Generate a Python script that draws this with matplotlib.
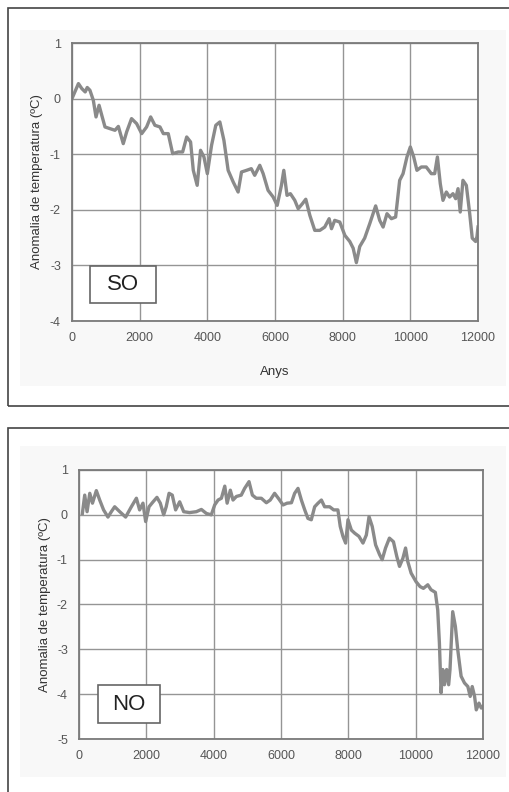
import matplotlib.pyplot as plt
from matplotlib.patches import Rectangle
import numpy as np

plt.rcParams['font.family'] = ['Liberation Sans', 'DejaVu Sans']
plt.rcParams['axes.unicode_minus'] = False

# SO (top panel)
so_years = [0, 190, 290, 390, 450, 530, 630, 710, 800, 880, 975, 1120, 1270, 1370,
            1515, 1615, 1760, 1910, 2060, 2205, 2325, 2450, 2600, 2700, 2845, 2975,
            3140, 3270, 3390, 3505, 3585, 3700, 3800, 3900, 4000, 4125, 4250, 4370,
            4490, 4615, 4765, 4910, 5010, 5160, 5300, 5400, 5550, 5650, 5795, 5945,
            6065, 6190, 6260, 6355, 6455, 6585, 6685, 6810, 6910, 7030, 7175, 7325,
            7470, 7600, 7670, 7765, 7915, 8065, 8210, 8310, 8405, 8505, 8650, 8800,
            8975, 9095, 9195, 9310, 9440, 9565, 9685, 9785, 9900, 10000, 10100, 10195,
            10325, 10470, 10620, 10720, 10800, 10885, 10965, 11065, 11160, 11260,
            11340, 11410, 11475, 11555, 11655, 11755, 11830, 11930, 11970, 12000]
so_temp = [0.0, 0.27, 0.18, 0.12, 0.2, 0.15, -0.03, -0.33, -0.12, -0.3, -0.51, -0.54,
           -0.57, -0.5, -0.81, -0.6, -0.36, -0.45, -0.63, -0.51, -0.33, -0.48, -0.51,
           -0.63, -0.63, -0.99, -0.96, -0.96, -0.69, -0.78, -1.29, -1.56, -0.93, -1.05,
           -1.35, -0.84, -0.48, -0.42, -0.75, -1.29, -1.5, -1.68, -1.32, -1.29, -1.26,
           -1.38, -1.2, -1.35, -1.65, -1.77, -1.92, -1.56, -1.29, -1.74, -1.71, -1.83,
           -1.98, -1.89, -1.81, -2.1, -2.37, -2.37, -2.31, -2.16, -2.34, -2.19, -2.22,
           -2.46, -2.57, -2.69, -2.95, -2.66, -2.51, -2.25, -1.93, -2.19, -2.31, -2.07,
           -2.16, -2.13, -1.47, -1.35, -1.05, -0.87, -1.05, -1.29, -1.23, -1.23, -1.35,
           -1.35, -1.05, -1.53, -1.83, -1.68, -1.77, -1.71, -1.8, -1.62, -2.04, -1.47,
           -1.56, -2.07, -2.51, -2.57, -2.48, -2.31]

# NO (bottom panel)
no_years = [100, 170, 240, 320, 400, 515, 615, 730, 860, 960, 1060, 1210, 1385, 1555,
            1705, 1800, 1900, 1980, 2080, 2200, 2315, 2415, 2515, 2590, 2675, 2770,
            2870, 2990, 3110, 3285, 3485, 3635, 3785, 3930, 4030, 4130, 4230, 4330,
            4400, 4495, 4575, 4675, 4820, 4920, 5050, 5150, 5265, 5415, 5565, 5680,
            5810, 5940, 6060, 6180, 6310, 6405, 6505, 6605, 6705, 6800, 6900, 7000,
            7100, 7200, 7295, 7445, 7565, 7690, 7760, 7840, 7920, 7990, 8090, 8190,
            8315, 8435, 8535, 8615, 8710, 8810, 8930, 9005, 9105, 9220, 9340, 9440,
            9520, 9620, 9700, 9765, 9865, 10010, 10130, 10230, 10360, 10455, 10585,
            10655, 10705, 10755, 10805, 10855, 10920, 10980, 11020, 11100, 11180,
            11250, 11350, 11450, 11550, 11620, 11680, 11750, 11800, 11880, 11950, 12000]
no_temp = [0.03, 0.44, 0.07, 0.48, 0.26, 0.54, 0.33, 0.11, -0.05, 0.07, 0.18, 0.07,
           -0.05, 0.18, 0.37, 0.11, 0.26, -0.15, 0.18, 0.29, 0.39, 0.26, 0.0, 0.18,
           0.48, 0.44, 0.11, 0.29, 0.07, 0.05, 0.07, 0.12, 0.03, 0.0, 0.22, 0.33, 0.37,
           0.64, 0.26, 0.55, 0.33, 0.41, 0.44, 0.59, 0.74, 0.44, 0.37, 0.37, 0.27, 0.33,
           0.48, 0.35, 0.22, 0.26, 0.27, 0.48, 0.59, 0.33, 0.11, -0.08, -0.11, 0.18,
           0.26, 0.33, 0.18, 0.18, 0.11, 0.11, -0.26, -0.48, -0.63, -0.11, -0.34, -0.41,
           -0.48, -0.63, -0.45, -0.04, -0.26, -0.67, -0.89, -1.0, -0.74, -0.52, -0.6,
           -0.93, -1.15, -0.97, -0.74, -1.04, -1.3, -1.49, -1.6, -1.64, -1.56, -1.67,
           -1.73, -2.12, -2.86, -3.97, -3.45, -3.79, -3.45, -3.79, -3.45, -2.16, -2.49,
           -3.01, -3.6, -3.75, -3.83, -4.05, -3.83, -4.05, -4.35, -4.2, -4.31, -4.27]

x_ticks = [0, 2000, 4000, 6000, 8000, 10000, 12000]
ylabel = 'Anomalia de temperatura (ºC)'

W, H = 509, 792
fig = plt.figure(figsize=(W / 100, H / 100), dpi=100)


def px_rect(x0, y0, x1, y1):
    # pixel box (top-left origin) -> figure fraction rect
    return [x0 / W, 1 - y1 / H, (x1 - x0) / W, (y1 - y0) / H]


def frame(x0, y0, x1, y1):
    l, b, w, h = px_rect(x0, y0, x1, y1)
    fig.patches.append(Rectangle((l, b), w, h, transform=fig.transFigure,
                                 fill=False, edgecolor='#444444', lw=1.2, zorder=-2))


def shade(x0, y0, x1, y1):
    l, b, w, h = px_rect(x0, y0, x1, y1)
    fig.patches.append(Rectangle((l, b), w, h, transform=fig.transFigure,
                                 facecolor='#f8f8f8', edgecolor='none', zorder=-3))


frame(8, 8, 520, 406)
frame(8, 428, 520, 810)
shade(20, 30, 506, 386)
shade(20, 446, 506, 777)


def panel(rect, years, temp, ylim, label, box, ylabelpad, xlabel=None):
    ax = fig.add_axes(px_rect(*rect))
    ax.plot(years, temp, color='#8a8a8a', lw=2.4, solid_joinstyle='round')
    ax.set_xlim(0, 12000)
    ax.set_ylim(*ylim)
    ax.set_xticks(x_ticks)
    ax.set_yticks(range(ylim[0], ylim[1] + 1))
    ax.grid(color='#959595', lw=1)
    ax.set_axisbelow(True)
    ax.set_facecolor('white')
    for s in ax.spines.values():
        s.set_color('#7a7a7a')
        s.set_linewidth(1.3)
    ax.tick_params(length=0, labelsize=9, labelcolor='#555555', pad=8)
    ax.set_ylabel(ylabel, fontsize=9.5, color='#333333', labelpad=ylabelpad)
    if xlabel:
        ax.set_xlabel(xlabel, fontsize=9.5, color='#333333', labelpad=16)
    x0, y0, x1, y1 = box
    ax.add_patch(Rectangle((x0, y0), x1 - x0, y1 - y0, transform=ax.transAxes,
                           facecolor='white', edgecolor='#666666', lw=1.2, zorder=3))
    ax.text((x0 + x1) / 2, (y0 + y1) / 2, label, transform=ax.transAxes, fontsize=16,
            color='#222222', ha='center', va='center', zorder=4)
    return ax


panel((72, 43, 478, 321), so_years, so_temp, (-4, 1), 'SO',
      (0.044, 0.065, 0.207, 0.198), 5, 'Anys')
panel((79, 470, 483, 739), no_years, no_temp, (-5, 1), 'NO',
      (0.047, 0.059, 0.2, 0.2), 4)

plt.savefig('out.png', dpi=100)
